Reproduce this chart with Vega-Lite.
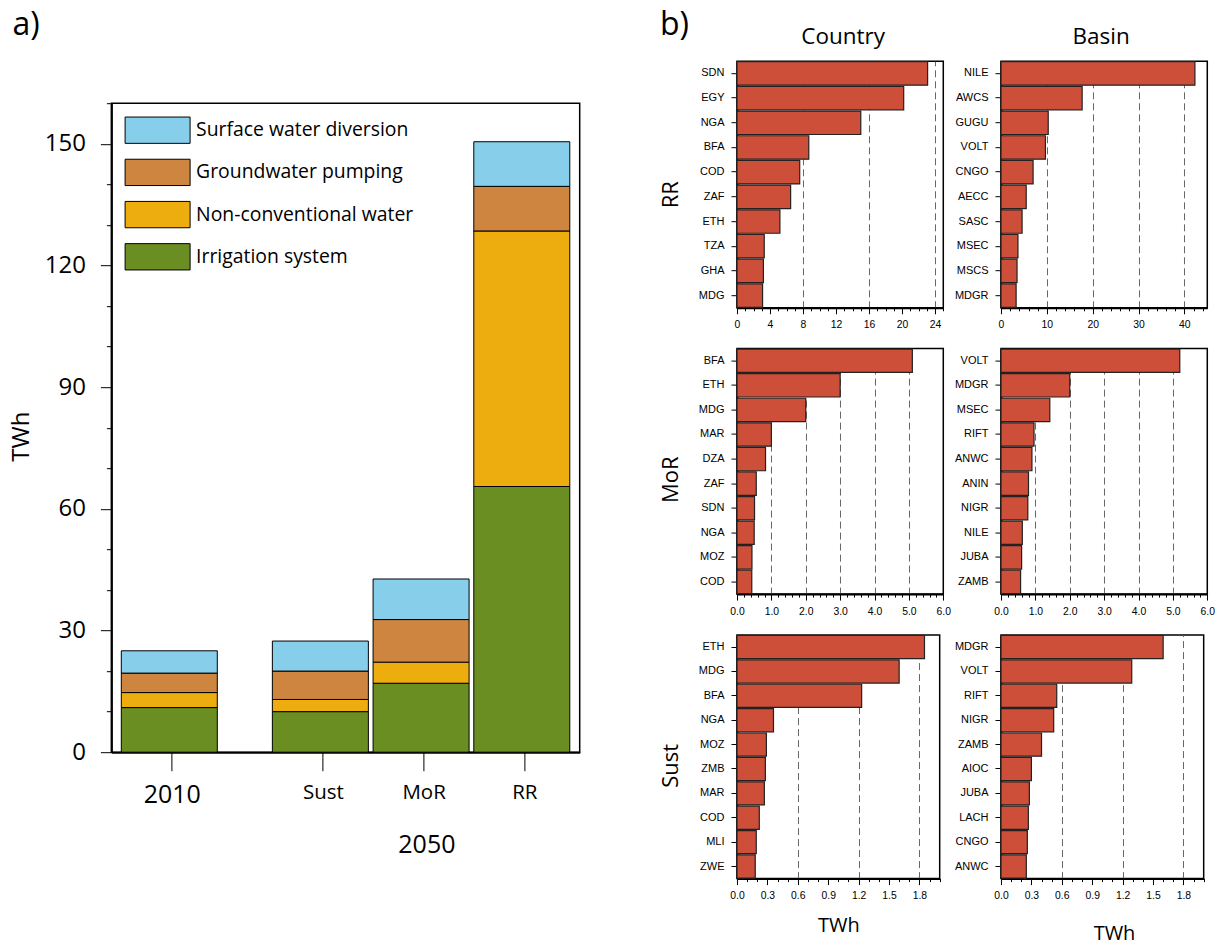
{"$schema":"https://vega.github.io/schema/vega-lite/v6.json","padding":{"left":8.4,"top":8.2,"right":0,"bottom":6},"background":"white",
"config":{"view":{"stroke":"black","strokeWidth":1.5,"fill":"white"},
"axis":{"domainColor":"black","domainWidth":2,"tickColor":"black","tickWidth":1,"labelColor":"black","titleColor":"black","titleFontWeight":"normal","grid":false,"labelFlush":false,"labelBound":false,"labelOverlap":false}},
"datasets":{
"stack":[
{"period":"2010","component":"Irrigation system","rank":1,"twh":11},{"period":"2010","component":"Non-conventional water","rank":2,"twh":3.7},{"period":"2010","component":"Groundwater pumping","rank":3,"twh":4.8},{"period":"2010","component":"Surface water diversion","rank":4,"twh":5.5},
{"period":"Sust","component":"Irrigation system","rank":1,"twh":10},{"period":"Sust","component":"Non-conventional water","rank":2,"twh":3},{"period":"Sust","component":"Groundwater pumping","rank":3,"twh":7},{"period":"Sust","component":"Surface water diversion","rank":4,"twh":7.4},
{"period":"MoR","component":"Irrigation system","rank":1,"twh":17},{"period":"MoR","component":"Non-conventional water","rank":2,"twh":5.2},{"period":"MoR","component":"Groundwater pumping","rank":3,"twh":10.5},{"period":"MoR","component":"Surface water diversion","rank":4,"twh":10},
{"period":"RR","component":"Irrigation system","rank":1,"twh":65.5},{"period":"RR","component":"Non-conventional water","rank":2,"twh":63},{"period":"RR","component":"Groundwater pumping","rank":3,"twh":11},{"period":"RR","component":"Surface water diversion","rank":4,"twh":11}],
"rrc":[{"code":"SDN","twh":23.1},{"code":"EGY","twh":20.2},{"code":"NGA","twh":15},{"code":"BFA","twh":8.7},{"code":"COD","twh":7.6},{"code":"ZAF","twh":6.5},{"code":"ETH","twh":5.2},{"code":"TZA","twh":3.3},{"code":"GHA","twh":3.2},{"code":"MDG","twh":3.1}],
"rrb":[{"code":"NILE","twh":42.3},{"code":"AWCS","twh":17.7},{"code":"GUGU","twh":10.3},{"code":"VOLT","twh":9.7},{"code":"CNGO","twh":7},{"code":"AECC","twh":5.5},{"code":"SASC","twh":4.6},{"code":"MSEC","twh":3.7},{"code":"MSCS","twh":3.5},{"code":"MDGR","twh":3.3}],
"morc":[{"code":"BFA","twh":5.1},{"code":"ETH","twh":3},{"code":"MDG","twh":2},{"code":"MAR","twh":1},{"code":"DZA","twh":0.83},{"code":"ZAF","twh":0.56},{"code":"SDN","twh":0.51},{"code":"NGA","twh":0.5},{"code":"MOZ","twh":0.435},{"code":"COD","twh":0.43}],
"morb":[{"code":"VOLT","twh":5.2},{"code":"MDGR","twh":2},{"code":"MSEC","twh":1.42},{"code":"RIFT","twh":0.96},{"code":"ANWC","twh":0.9},{"code":"ANIN","twh":0.8},{"code":"NIGR","twh":0.78},{"code":"NILE","twh":0.62},{"code":"JUBA","twh":0.6},{"code":"ZAMB","twh":0.57}],
"susc":[{"code":"ETH","twh":1.85},{"code":"MDG","twh":1.6},{"code":"BFA","twh":1.23},{"code":"NGA","twh":0.36},{"code":"MOZ","twh":0.29},{"code":"ZMB","twh":0.28},{"code":"MAR","twh":0.27},{"code":"COD","twh":0.22},{"code":"MLI","twh":0.19},{"code":"ZWE","twh":0.18}],
"susb":[{"code":"MDGR","twh":1.6},{"code":"VOLT","twh":1.29},{"code":"RIFT","twh":0.55},{"code":"NIGR","twh":0.52},{"code":"ZAMB","twh":0.4},{"code":"AIOC","twh":0.3},{"code":"JUBA","twh":0.28},{"code":"LACH","twh":0.27},{"code":"CNGO","twh":0.26},{"code":"ANWC","twh":0.25}],
"none":[]},
"spacing":76.6,
"hconcat":[
{"bounds":"flush","spacing":10,"vconcat":[
 {"width":468.3,"height":32,"view":{"stroke":null,"fill":null},"title":{"text":"a)","anchor":"start","frame":"group","dx":-99,"offset":0,"dy":-19,"fontSize":32,"font":"Open Sans","fontWeight":"normal","color":"black"},"data":{"name":"none"},"mark":{"type":"point","opacity":0},"encoding":{}},
 {"width":468.3,"height":649,"data":{"name":"stack"},"mark":{"type":"bar","width":96,"stroke":"black","strokeWidth":1},
 "encoding":{
 "x":{"field":"period","type":"nominal","title":"2050","sort":null,
  "scale":{"type":"point","domain":["pad0","2010","gap1","gap2","Sust","gap3","MoR","gap4","RR","pad1"],"padding":0.15,"align":0.5},
  "axis":{"values":["2010","Sust","MoR","RR"],"labelAngle":0,"tickSize":18.5,"tickOffset":2.5,"labelPadding":12,"labelFont":"Open Sans","labelFontSize":{"condition":{"test":"datum.value=='2010'","value":25},"value":20.5},"titleFont":"Open Sans","titleFontSize":25,"titleX":315,"titlePadding":25}},
 "y":{"field":"twh","type":"quantitative","stack":"zero","title":"TWh",
  "scale":{"domain":[0,160],"nice":false},
  "axis":{"values":[0,10,20,30,40,50,60,70,80,90,100,110,120,130,140,150,160],"labelExpr":"datum.value%30==0?datum.label:''","tickSize":{"condition":{"test":"datum.value%30==0","value":11},"value":5},"labelFont":"Open Sans","labelFontSize":24,"labelPadding":15,"titleFont":"Open Sans","titleFontSize":24,"titlePadding":11,"titleY":333}},
 "order":{"field":"rank","type":"ordinal"},
 "color":{"field":"component","type":"nominal","scale":{"domain":["Surface water diversion","Groundwater pumping","Non-conventional water","Irrigation system"],"range":["#87CEEB","#CD853F","#EEAD0E","#6B8E23"]},
  "legend":{"orient":"none","legendX":29.2,"legendY":52,"title":null,"symbolType":"M-2,-0.81H2V0.81H-2Z","symbolSize":1056,"symbolStrokeColor":"black","symbolStrokeWidth":1,"symbolOpacity":1,"labelFont":"Open Sans","labelFontSize":19.4,"labelColor":"black","labelOffset":21.5,"rowPadding":9.2,"padding":0,"labelLimit":300}}
 }}]},
{"bounds":"flush","columns":2,"spacing":{"row":40.4,"column":57},"title":{"text":"b)","anchor":"start","frame":"group","dx":-77,"dy":21,"fontSize":32,"font":"Open Sans","fontWeight":"normal","color":"black"},
"concat":[
 {"width":206.3,"height":246.6,"data":{"name":"rrc"},"title":{"text":"Country","font":"Open Sans","fontSize":22.5,"fontWeight":"normal","color":"black","offset":13,"dx":3},"mark":{"type":"bar","fill":"#CD4F39","stroke":"#222222","strokeWidth":1.2},
 "encoding":{"y":{"field":"code","type":"nominal","sort":"-x","title":"RR","scale":{"paddingInner":0.05,"paddingOuter":0.02},"axis":{"tickSize":6,"labelFont":"Liberation Sans","labelFontSize":11,"labelPadding":7,"titleFont":"Open Sans","titleFontSize":22,"titlePadding":16,"titleY":133}},
 "x":{"field":"twh","type":"quantitative","title":null,"scale":{"domain":[0,25],"nice":false},"axis":{"values":[0,1,2,3,4,5,6,7,8,9,10,11,12,13,14,15,16,17,18,19,20,21,22,23,24,25],"labelExpr":"datum.value%4==0?datum.label:''","tickSize":{"condition":{"test":"datum.value%4==0","value":6},"value":3},"grid":true,"gridDash":[7,4],"gridColor":"#666666","gridWidth":1,"gridOpacity":{"condition":{"test":"datum.value%8==0&&datum.value>0","value":1},"value":0},"labelFont":"Liberation Sans","labelFontSize":10.4,"labelPadding":6}}}},
 {"width":206.3,"height":246.6,"data":{"name":"rrb"},"title":{"text":"Basin","font":"Open Sans","fontSize":22.5,"fontWeight":"normal","color":"black","offset":13,"dx":-3},"mark":{"type":"bar","fill":"#CD4F39","stroke":"#222222","strokeWidth":1.2},
 "encoding":{"y":{"field":"code","type":"nominal","sort":"-x","title":null,"scale":{"paddingInner":0.05,"paddingOuter":0.02},"axis":{"tickSize":6,"labelFont":"Liberation Sans","labelFontSize":11,"labelPadding":7}},
 "x":{"field":"twh","type":"quantitative","title":null,"scale":{"domain":[0,45],"nice":false},"axis":{"values":[0,2,4,6,8,10,12,14,16,18,20,22,24,26,28,30,32,34,36,38,40,42,44],"labelExpr":"datum.value%10==0?datum.label:''","tickSize":{"condition":{"test":"datum.value%10==0","value":6},"value":3},"grid":true,"gridDash":[7,4],"gridColor":"#666666","gridWidth":1,"gridOpacity":{"condition":{"test":"datum.value%10==0&&datum.value>0","value":1},"value":0},"labelFont":"Liberation Sans","labelFontSize":10.4,"labelPadding":6}}}},
 {"width":206.3,"height":245.5,"data":{"name":"morc"},"mark":{"type":"bar","fill":"#CD4F39","stroke":"#222222","strokeWidth":1.2},
 "encoding":{"y":{"field":"code","type":"nominal","sort":"-x","title":"MoR","scale":{"paddingInner":0.05,"paddingOuter":0.02},"axis":{"tickSize":6,"labelFont":"Liberation Sans","labelFontSize":11,"labelPadding":7,"titleFont":"Open Sans","titleFontSize":22,"titlePadding":16,"titleY":130.7}},
 "x":{"field":"twh","type":"quantitative","title":null,"scale":{"domain":[0,6],"nice":false},"axis":{"values":[0,0.2,0.4,0.6,0.8,1,1.2,1.4,1.6,1.8,2,2.2,2.4,2.6,2.8,3,3.2,3.4,3.6,3.8,4,4.2,4.4,4.6,4.8,5,5.2,5.4,5.6,5.8,6],"format":".1f","labelExpr":"abs(datum.value-round(datum.value))<0.001?datum.label:''","tickSize":{"condition":{"test":"abs(datum.value-round(datum.value))<0.001","value":6},"value":3},"grid":true,"gridDash":[7,4],"gridColor":"#666666","gridWidth":1,"gridOpacity":{"condition":{"test":"abs(datum.value-round(datum.value))<0.001&&datum.value>0&&datum.value<6","value":1},"value":0},"labelFont":"Liberation Sans","labelFontSize":10.4,"labelPadding":6}}}},
 {"width":206.3,"height":245.5,"data":{"name":"morb"},"mark":{"type":"bar","fill":"#CD4F39","stroke":"#222222","strokeWidth":1.2},
 "encoding":{"y":{"field":"code","type":"nominal","sort":"-x","title":null,"scale":{"paddingInner":0.05,"paddingOuter":0.02},"axis":{"tickSize":6,"labelFont":"Liberation Sans","labelFontSize":11,"labelPadding":7}},
 "x":{"field":"twh","type":"quantitative","title":null,"scale":{"domain":[0,6],"nice":false},"axis":{"values":[0,0.2,0.4,0.6,0.8,1,1.2,1.4,1.6,1.8,2,2.2,2.4,2.6,2.8,3,3.2,3.4,3.6,3.8,4,4.2,4.4,4.6,4.8,5,5.2,5.4,5.6,5.8,6],"format":".1f","labelExpr":"abs(datum.value-round(datum.value))<0.001?datum.label:''","tickSize":{"condition":{"test":"abs(datum.value-round(datum.value))<0.001","value":6},"value":3},"grid":true,"gridDash":[7,4],"gridColor":"#666666","gridWidth":1,"gridOpacity":{"condition":{"test":"abs(datum.value-round(datum.value))<0.001&&datum.value>0&&datum.value<6","value":1},"value":0},"labelFont":"Liberation Sans","labelFontSize":10.4,"labelPadding":6}}}},
 {"width":202.7,"height":243.6,"data":{"name":"susc"},"mark":{"type":"bar","fill":"#CD4F39","stroke":"#222222","strokeWidth":1.2},
 "encoding":{"y":{"field":"code","type":"nominal","sort":"-x","title":"Sust","scale":{"paddingInner":0.05,"paddingOuter":0.02},"axis":{"tickSize":6,"labelFont":"Liberation Sans","labelFontSize":11,"labelPadding":7,"titleFont":"Open Sans","titleFontSize":22,"titlePadding":16,"titleY":130.3}},
 "x":{"field":"twh","type":"quantitative","title":"TWh","scale":{"domain":[0,2],"nice":false},"axis":{"values":[0,0.1,0.2,0.3,0.4,0.5,0.6,0.7,0.8,0.9,1,1.1,1.2,1.3,1.4,1.5,1.6,1.7,1.8,1.9,2],"format":".1f","labelExpr":"abs(datum.value/0.3-round(datum.value/0.3))<0.001&&datum.value<1.9?datum.label:''","tickSize":{"condition":{"test":"abs(datum.value/0.3-round(datum.value/0.3))<0.001","value":6},"value":3},"grid":true,"gridDash":[7,4],"gridColor":"#666666","gridWidth":1,"gridOpacity":{"condition":{"test":"abs(datum.value/0.6-round(datum.value/0.6))<0.001&&datum.value>0","value":1},"value":0},"labelFont":"Liberation Sans","labelFontSize":10.4,"labelPadding":6,"titleFont":"Open Sans","titleFontSize":20,"titlePadding":15}}}},
 {"width":202.7,"height":243.6,"data":{"name":"susb"},"mark":{"type":"bar","fill":"#CD4F39","stroke":"#222222","strokeWidth":1.2},
 "encoding":{"y":{"field":"code","type":"nominal","sort":"-x","title":null,"scale":{"paddingInner":0.05,"paddingOuter":0.02},"axis":{"tickSize":6,"labelFont":"Liberation Sans","labelFontSize":11,"labelPadding":7}},
 "x":{"field":"twh","type":"quantitative","title":"TWh","scale":{"domain":[0,2],"nice":false},"axis":{"values":[0,0.1,0.2,0.3,0.4,0.5,0.6,0.7,0.8,0.9,1,1.1,1.2,1.3,1.4,1.5,1.6,1.7,1.8,1.9,2],"format":".1f","labelExpr":"abs(datum.value/0.3-round(datum.value/0.3))<0.001&&datum.value<1.9?datum.label:''","tickSize":{"condition":{"test":"abs(datum.value/0.3-round(datum.value/0.3))<0.001","value":6},"value":3},"grid":true,"gridDash":[7,4],"gridColor":"#666666","gridWidth":1,"gridOpacity":{"condition":{"test":"abs(datum.value/0.6-round(datum.value/0.6))<0.001&&datum.value>0","value":1},"value":0},"labelFont":"Liberation Sans","labelFontSize":10.4,"labelPadding":6,"titleFont":"Open Sans","titleFontSize":20,"titlePadding":23,"titleX":113}}}}
]}
]}
